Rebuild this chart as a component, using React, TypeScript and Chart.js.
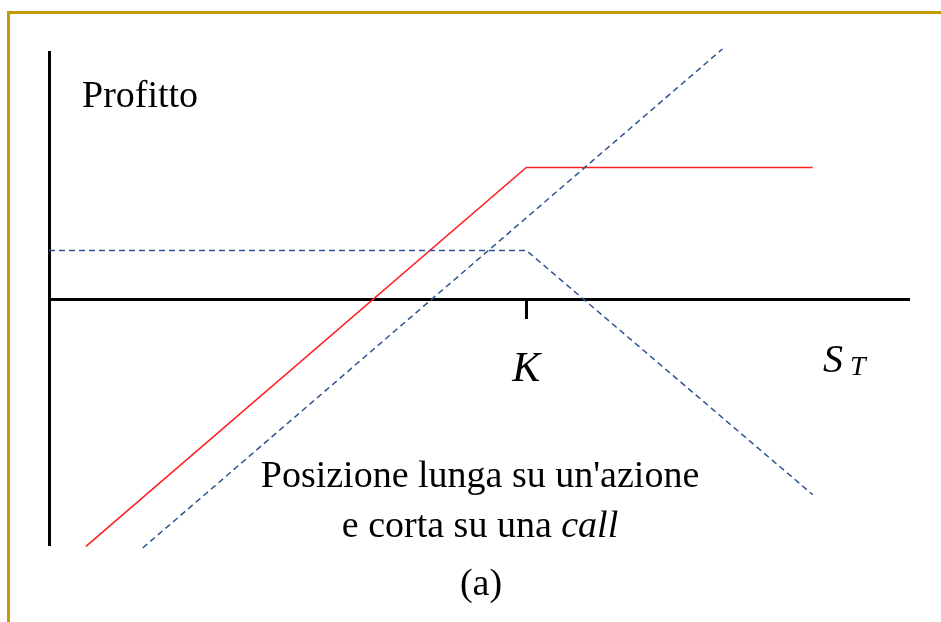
import React, { useEffect, useRef } from "react";
import { Chart, registerables } from "chart.js";

Chart.register(...registerables);

// Strike price and payoff series (S_T on x, profit on y)
const strike = 55.5;

const stockX = [10.9, 78.3];
const stockY = [-33.6, 33.8];

const shortCallX = [0, 55.5, 88.8];
const shortCallY = [6.6, 6.6, -26.4];

const coveredCallX = [4.3, 55.5, 88.8];
const coveredCallY = [-33.4, 17.8, 17.8];

const xRange = [0, 100];
const yRange = [-33.2, 33.4];

const yAxisTitle = "Profitto";
const captionLines = ["Posizione lunga su un'azione", "e corta su una "];
const captionItalic = "call";
const captionTag = "(a)";

const toPoints = (xs: number[], ys: number[]) => xs.map((x, i) => ({ x, y: ys[i] }));

const SERIF = "'Liberation Serif', 'Times New Roman', serif";

const annotations = {
  id: "annotations",
  afterDraw(chart: any) {
    const { ctx, scales } = chart;
    const x = scales.x;
    const y = scales.y;
    ctx.save();
    ctx.fillStyle = "#000";
    ctx.textBaseline = "alphabetic";

    // y-axis title inside the plot
    ctx.font = `38px ${SERIF}`;
    ctx.textAlign = "left";
    ctx.fillText(yAxisTitle, x.getPixelForValue(0) + 33, 107);

    // S_T label at the end of the x axis
    const stX = x.right - 86;
    const stY = y.getPixelForValue(0) + 73;
    ctx.font = `italic 40px ${SERIF}`;
    ctx.fillText("S", stX, stY);
    ctx.font = `italic 28px ${SERIF}`;
    ctx.fillText("T", stX + 27, stY + 3);

    // caption
    const cx = 480;
    const size = 38;
    ctx.font = `${size}px ${SERIF}`;
    ctx.textAlign = "center";
    ctx.fillText(captionLines[0], cx, 487);
    const plain = captionLines[1];
    const wPlain = ctx.measureText(plain).width;
    ctx.font = `italic ${size}px ${SERIF}`;
    const wIt = ctx.measureText(captionItalic).width;
    const startX = cx - (wPlain + wIt) / 2;
    ctx.textAlign = "left";
    ctx.font = `${size}px ${SERIF}`;
    ctx.fillText(plain, startX, 537);
    ctx.font = `italic ${size}px ${SERIF}`;
    ctx.fillText(captionItalic, startX + wPlain, 537);
    ctx.font = `${size}px ${SERIF}`;
    ctx.textAlign = "center";
    ctx.fillText(captionTag, cx + 1, 595);
    ctx.restore();
  },
};

export default function App() {
  const canvasRef = useRef<HTMLCanvasElement | null>(null);

  useEffect(() => {
    if (!canvasRef.current) return;
    const chart = new Chart(canvasRef.current, {
      type: "scatter",
      data: {
        datasets: [
          {
            label: "Azione",
            data: toPoints(stockX, stockY),
            showLine: true,
            borderColor: "#2E5391",
            borderWidth: 1.5,
            borderDash: [6, 4],
            pointRadius: 0,
            fill: false,
          },
          {
            label: "Call corta",
            data: toPoints(shortCallX, shortCallY),
            showLine: true,
            borderColor: "#2E5391",
            borderWidth: 1.5,
            borderDash: [6, 4],
            pointRadius: 0,
            fill: false,
          },
          {
            label: "Posizione complessiva",
            data: toPoints(coveredCallX, coveredCallY),
            showLine: true,
            borderColor: "#FF2020",
            borderWidth: 1.6,
            pointRadius: 0,
            fill: false,
          },
        ],
      },
      options: {
        responsive: false,
        animation: false,
        clip: false as any,
        layout: { padding: { left: 49, right: 32, top: 52, bottom: 77 } },
        plugins: {
          legend: { display: false },
          tooltip: { enabled: false },
        },
        scales: {
          x: {
            type: "linear",
            position: { y: 0 } as any,
            min: xRange[0],
            max: xRange[1],
            afterBuildTicks: (scale: any) => {
              scale.ticks = [{ value: strike }];
            },
            ticks: {
              callback: () => "K",
              font: { family: SERIF, size: 42, style: "italic" },
              color: "#000",
              padding: 28,
              maxRotation: 0,
            },
            grid: {
              drawOnChartArea: false,
              drawTicks: true,
              tickLength: 18,
              tickWidth: 3,
              tickColor: "#000",
            },
            border: { display: true, color: "#000", width: 3 },
          },
          y: {
            type: "linear",
            position: { x: 0 } as any,
            min: yRange[0],
            max: yRange[1],
            ticks: { display: false },
            grid: { display: false, drawTicks: false },
            border: { display: true, color: "#000", width: 3 },
          },
        },
      },
      plugins: [annotations],
    });
    return () => chart.destroy();
  }, []);

  return (
    <div style={{ position: "fixed", left: 0, top: 0, width: 941, height: 622, background: "#fff" }}>
      <div
        style={{
          position: "absolute",
          left: 7,
          top: 11,
          width: 934,
          height: 611,
          borderLeft: "3px solid #C49A00",
          borderTop: "3px solid #C49A00",
          boxSizing: "border-box",
        }}
      />
      <canvas
        ref={canvasRef}
        width={941}
        height={622}
        style={{ position: "absolute", left: 0, top: 0 }}
      />
    </div>
  );
}
